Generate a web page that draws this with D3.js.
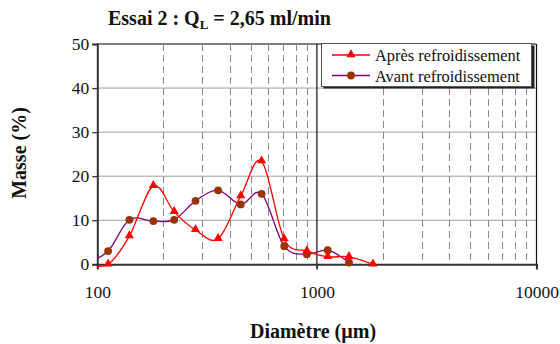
<!DOCTYPE html>
<html>
<head>
<meta charset="utf-8">
<script src="https://cdn.jsdelivr.net/npm/d3@7/dist/d3.min.js"></script>
<style>
  html, body { margin: 0; padding: 0; background: #fff; }
  svg { display: block; }
</style>
</head>
<body>
<svg id="chart" width="560" height="344"></svg>
<script>
// Sieve sizes (µm) and mass fractions (%)
const diametres = [90, 112, 140, 180, 224, 280, 355, 450, 560, 710, 900, 1120, 1400, 1800];
const apres  = [0, 0, 6.4, 17.8, 11.9, 7.8, 5.8, 15.5, 23.4, 5.7, 3.0, 1.7, 1.7, 0];
const avant  = [0.5, 3.0, 10.1, 9.8, 10.1, 14.4, 16.8, 13.6, 16.0, 4.1, 2.3, 3.2, 0.4, null];
const yTicks = [0, 10, 20, 30, 40, 50];
const xMajor = [100, 1000, 10000];
const seriesNames = ["Après refroidissement", "Avant refroidissement"];

const FONT = '"Liberation Serif", "Times New Roman", serif';
const svg = d3.select("#chart");
const plotLeft = 97.3, plotRight = 536.5, plotTop = 44, plotBottom = 264.3;

const x = d3.scaleLog().domain([100, 10000]).range([plotLeft, plotRight]);
const y = d3.scaleLinear().domain([0, 50]).range([plotBottom, plotTop]);

// horizontal gridlines
svg.append("g").selectAll("line").data(yTicks.filter(v => v > 0)).join("line")
  .attr("x1", plotLeft).attr("x2", plotRight)
  .attr("y1", d => y(d)).attr("y2", d => y(d))
  .attr("stroke", d => d === 50 ? "#555" : "#a0a0a0")
  .attr("stroke-width", d => d === 50 ? 1.5 : 1);

// minor vertical dashed gridlines
const minor = [];
[100, 1000].forEach(b => { for (let k = 2; k <= 9; k++) minor.push(b * k); });
svg.append("g").selectAll("line").data(minor).join("line")
  .attr("x1", d => Math.round(x(d)) + 0.5).attr("x2", d => Math.round(x(d)) + 0.5)
  .attr("y1", plotTop).attr("y2", plotBottom)
  .attr("stroke", "#8a8a8a").attr("stroke-width", 1)
  .attr("stroke-dasharray", "7,4");

// major vertical gridlines
svg.append("g").selectAll("line").data([1000, 10000]).join("line")
  .attr("x1", d => x(d)).attr("x2", d => x(d))
  .attr("y1", plotTop).attr("y2", plotBottom + 5)
  .attr("stroke", "#111").attr("stroke-width", 1.2);

// axes
const yAxis = d3.axisLeft(y).tickValues(yTicks).tickSize(5).tickPadding(3);
const gy = svg.append("g").attr("transform", `translate(${plotLeft},0)`).call(yAxis);
gy.select(".domain").attr("stroke", "#333").attr("stroke-width", 2);
gy.selectAll(".tick line").attr("stroke", "#333").attr("stroke-width", 1.3);
gy.selectAll("text").style("font-size", "17.5px").style("font-family", FONT).attr("fill", "#111");

const xAxis = d3.axisBottom(x).tickValues(xMajor).tickFormat(d3.format("d"))
  .tickSize(5).tickPadding(16);
const gx = svg.append("g").attr("transform", `translate(0,${plotBottom})`).call(xAxis);
gx.select(".domain").attr("stroke", "#333").attr("stroke-width", 2);
gx.selectAll(".tick line").attr("stroke", "#333").attr("stroke-width", 1.3);
gx.selectAll("text").style("font-size", "17.5px").style("font-family", FONT).attr("fill", "#111");

// clip region for curves
svg.append("clipPath").attr("id", "plotclip").append("rect")
  .attr("x", plotLeft).attr("y", plotTop - 6)
  .attr("width", plotRight - plotLeft).attr("height", plotBottom - plotTop + 12);

const plot = svg.append("g").attr("clip-path", "url(#plotclip)");

function pts(vals) {
  return diametres.map((d, i) => [d, vals[i]]).filter(p => p[1] !== null);
}
const line = d3.line().x(p => x(p[0])).y(p => y(p[1])).curve(d3.curveCatmullRom.alpha(0));

plot.append("path").attr("d", line(pts(avant)))
  .attr("fill", "none").attr("stroke", "#800080").attr("stroke-width", 1.3);
plot.append("path").attr("d", line(pts(apres)))
  .attr("fill", "none").attr("stroke", "#ff0000").attr("stroke-width", 1.3);

const tri = d3.symbol().type(d3.symbolTriangle).size(36);

plot.append("g").selectAll("circle").data(pts(avant).filter(p => p[0] >= 100)).join("circle")
  .attr("cx", p => x(p[0])).attr("cy", p => y(p[1])).attr("r", 3.9)
  .attr("fill", "#993300");
plot.append("g").selectAll("path").data(pts(apres).filter(p => p[0] >= 100)).join("path")
  .attr("d", tri)
  .attr("transform", p => `translate(${x(p[0])},${y(p[1]) - 0.5})`)
  .attr("fill", "#ff0000");

// legend
const lg = svg.append("g");
lg.append("rect").attr("x", 323.5).attr("y", 45.5).attr("width", 211).attr("height", 43)
  .attr("fill", "#222");
lg.append("rect").attr("x", 321.5).attr("y", 43.5).attr("width", 210).attr("height", 43)
  .attr("fill", "#fff").attr("stroke", "#555").attr("stroke-width", 1);
const legendRows = [
  { name: seriesNames[0], color: "#ff0000", marker: "tri", yy: 55 },
  { name: seriesNames[1], color: "#800080", marker: "circle", yy: 75.5 }
];
legendRows.forEach(r => {
  lg.append("line").attr("x1", 332).attr("x2", 370).attr("y1", r.yy).attr("y2", r.yy)
    .attr("stroke", r.color).attr("stroke-width", 1.3);
  if (r.marker === "tri") {
    lg.append("path").attr("d", tri).attr("transform", `translate(351,${r.yy - 0.5})`).attr("fill", "#ff0000");
  } else {
    lg.append("circle").attr("cx", 351).attr("cy", r.yy).attr("r", 3.9).attr("fill", "#993300");
  }
  lg.append("text").attr("x", 375).attr("y", r.yy + 6)
    .style("font-size", "16.4px").style("font-family", FONT).attr("fill", "#111")
    .text(r.name);
});

// title
const title = svg.append("text").attr("x", 108).attr("y", 25)
  .style("font-size", "20px").style("font-family", FONT).style("font-weight", "bold").attr("fill", "#111");
title.append("tspan").text("Essai 2 : Q");
title.append("tspan").style("font-size", "13px").attr("dy", 4).text("L");
title.append("tspan").attr("dy", -4).text(" = 2,65 ml/min");

// axis titles
svg.append("text").attr("x", 313).attr("y", 338).attr("text-anchor", "middle")
  .style("font-size", "20px").style("font-family", FONT).style("font-weight", "bold").attr("fill", "#111")
  .text("Diamètre (µm)");
svg.append("text").attr("transform", "translate(26,153) rotate(-90)").attr("text-anchor", "middle")
  .style("font-size", "20px").style("font-family", FONT).style("font-weight", "bold").attr("fill", "#111")
  .text("Masse (%)");
</script>
</body>
</html>
